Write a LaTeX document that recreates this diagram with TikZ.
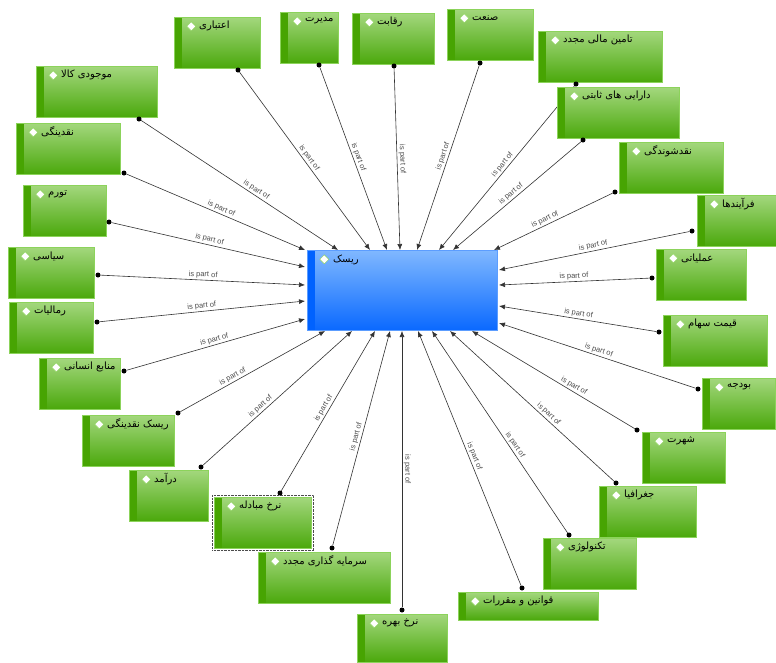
\documentclass[tikz,border=0pt]{standalone}
\usepackage{fontspec}
\setmainfont{Liberation Sans}
\newfontfamily\persianfont[Script=Arabic]{DejaVu Sans}
\TeXXeTstate=1
\usetikzlibrary{arrows.meta,backgrounds}

\newcommand{\fatext}[1]{\beginR #1\endR}

\definecolor{verdechiaro}{HTML}{A3D77D}
\definecolor{verdescuro}{HTML}{4AA80B}
\definecolor{verdestriscia}{HTML}{47A402}
\definecolor{bordoverde}{HTML}{8CD35B}
\definecolor{bluchiaro}{HTML}{80B8FF}
\definecolor{bluscuro}{HTML}{0A69FF}
\definecolor{blustriscia}{HTML}{0062FF}
\definecolor{bordoblu}{HTML}{5C9DFF}

\tikzset{
  conrombo/.style={path picture={
      \fill[#1] (path picture bounding box.north west) rectangle ([shift={(8,0)}]path picture bounding box.south west);
      \filldraw[fill=white, draw=bordoverde, line width=0.5pt] ([shift={(17,4.5)}]path picture bounding box.north west) -- ++(4.5,4.5) -- ++(-4.5,4.5) -- ++(-4.5,-4.5) -- cycle;}},
  fattore/.style={draw=bordoverde, line width=0.6pt, top color=verdechiaro, bottom color=verdescuro, minimum height=51pt, inner sep=0pt, anchor=north west, conrombo=verdestriscia},
  rischio/.style={draw=bordoblu, line width=0.6pt, top color=bluchiaro, bottom color=bluscuro, minimum width=190pt, minimum height=80pt, inner sep=0pt, anchor=north west, conrombo=blustriscia},
  nome/.style={font=\persianfont\fontsize{10}{11}\selectfont, inner sep=0pt, anchor=west},
  punto/.style={circle, fill=black, inner sep=0pt, minimum size=5pt},
  legame/.style={line width=0.6pt, draw=black!80, -{Latex[length=6pt,width=5pt]}},
  partedi/.style={font=\fontsize{7.5}{8}\selectfont, text=black!70, sloped, above, midway, inner sep=1.5pt}
}

\begin{document}
\begin{tikzpicture}[x=1pt,y=-1pt]
    \useasboundingbox (0,0) rectangle (776,662);

    % Nodo centrale
    \node[rischio] (risk) at (307,250) {};
    \node[nome] (riskT) at ([shift={(26,10)}]risk.north west) {\fatext{ریسک}};

    % Fattori in alto
    \node[fattore, minimum width=86pt] (etebari) at (174,17) {};
    \node[nome] (etebariT) at ([shift={(25,9)}]etebari.north west) {\fatext{اعتباری}};
    \node[fattore, minimum width=58pt] (modiriat) at (280,12) {};
    \node[nome] (modiriatT) at ([shift={(25,9)}]modiriat.north west) {\fatext{مدیرت}};
    \node[fattore, minimum width=82pt] (reghabat) at (352,13) {};
    \node[nome] (reghabatT) at ([shift={(25,9)}]reghabat.north west) {\fatext{رقابت}};
    \node[fattore, minimum width=86pt] (sanat) at (447,9) {};
    \node[nome] (sanatT) at ([shift={(25,9)}]sanat.north west) {\fatext{صنعت}};
    \node[fattore, minimum width=124pt] (tamin) at (538,31) {};
    \node[nome] (taminT) at ([shift={(25,9)}]tamin.north west) {\fatext{تامین مالی مجدد}};
    \node[fattore, minimum width=122pt] (daraei) at (557,87) {};
    \node[nome] (daraeiT) at ([shift={(25,9)}]daraei.north west) {\fatext{دارایی های ثابتی}};
    \node[fattore, minimum width=104pt] (naghdshav) at (619,142) {};
    \node[nome] (naghdshavT) at ([shift={(25,9)}]naghdshav.north west) {\fatext{نقدشوندگی}};

    % Fattori a destra
    \node[fattore, minimum width=79pt] (farayand) at (697,195) {};
    \node[nome] (farayandT) at ([shift={(25,9)}]farayand.north west) {\fatext{فرآیندها}};
    \node[fattore, minimum width=90pt] (amaliati) at (656,249) {};
    \node[nome] (amaliatiT) at ([shift={(25,9)}]amaliati.north west) {\fatext{عملیاتی}};
    \node[fattore, minimum width=104pt] (gheymat) at (663,315) {};
    \node[nome] (gheymatT) at ([shift={(25,9)}]gheymat.north west) {\fatext{قیمت سهام}};
    \node[fattore, minimum width=73pt] (budje) at (702,378) {};
    \node[nome] (budjeT) at ([shift={(25,9)}]budje.north west) {\fatext{بودجه}};
    \node[fattore, minimum width=83pt] (shohrat) at (642,432) {};
    \node[nome] (shohratT) at ([shift={(25,9)}]shohrat.north west) {\fatext{شهرت}};
    \node[fattore, minimum width=97pt] (joghrafia) at (599,486) {};
    \node[nome] (joghrafiaT) at ([shift={(25,9)}]joghrafia.north west) {\fatext{جغرافیا}};
    \node[fattore, minimum width=93pt] (teknoloji) at (543,538) {};
    \node[nome] (teknolojiT) at ([shift={(25,9)}]teknoloji.north west) {\fatext{تکنولوژی}};

    % Fattori in basso
    \node[fattore, minimum width=140pt, minimum height=28pt] (ghavanin) at (458,592) {};
    \node[nome] (ghavaninT) at ([shift={(25,9)}]ghavanin.north west) {\fatext{قوانین و مقررات}};
    \node[fattore, minimum width=90pt, minimum height=48pt] (bahre) at (357,614) {};
    \node[nome] (bahreT) at ([shift={(25,9)}]bahre.north west) {\fatext{نرخ بهره}};
    \node[fattore, minimum width=132pt] (sarmaye) at (258,552) {};
    \node[nome] (sarmayeT) at ([shift={(25,9)}]sarmaye.north west) {\fatext{سرمایه گذاری مجدد}};
    \node[fattore, minimum width=97pt] (mobadele) at (214,497) {};
    \node[nome] (mobadeleT) at ([shift={(25,9)}]mobadele.north west) {\fatext{نرخ مبادله}};
    \draw[densely dotted, black!70] ([shift={(-2,-2)}]mobadele.north west) rectangle ([shift={(2,2)}]mobadele.south east); % selezione
    \node[fattore, minimum width=79pt] (daramad) at (129,470) {};
    \node[nome] (daramadT) at ([shift={(25,9)}]daramad.north west) {\fatext{درآمد}};
    \node[fattore, minimum width=92pt] (risknaghd) at (82,415) {};
    \node[nome] (risknaghdT) at ([shift={(25,9)}]risknaghd.north west) {\fatext{ریسک نقدینگی}};

    % Fattori a sinistra
    \node[fattore, minimum width=81pt] (manabe) at (39,358) {};
    \node[nome] (manabeT) at ([shift={(25,9)}]manabe.north west) {\fatext{منابع انسانی}};
    \node[fattore, minimum width=84pt] (maliat) at (9,302) {};
    \node[nome] (maliatT) at ([shift={(25,9)}]maliat.north west) {\fatext{رمالیات}};
    \node[fattore, minimum width=86pt] (siasi) at (8,247) {};
    \node[nome] (siasiT) at ([shift={(25,9)}]siasi.north west) {\fatext{سیاسی}};
    \node[fattore, minimum width=83pt] (tavarom) at (23,185) {};
    \node[nome] (tavaromT) at ([shift={(25,9)}]tavarom.north west) {\fatext{تورم}};
    \node[fattore, minimum width=104pt] (naghdinegi) at (16,123) {};
    \node[nome] (naghdinegiT) at ([shift={(25,9)}]naghdinegi.north west) {\fatext{نقدینگی}};
    \node[fattore, minimum width=121pt] (mojoodi) at (36,66) {};
    \node[nome] (mojoodiT) at ([shift={(25,9)}]mojoodi.north west) {\fatext{موجودی کالا}};

    % Pallini di partenza
    \node[punto] (pEtebari) at (238,70) {};
    \node[punto] (pModiriat) at (319,65) {};
    \node[punto] (pReghabat) at (394,66) {};
    \node[punto] (pSanat) at (480,63) {};
    \node[punto] (pTamin) at (576,84) {};
    \node[punto] (pDaraei) at (583,140) {};
    \node[punto] (pNaghdshav) at (615,192) {};
    \node[punto] (pFarayand) at (692,231) {};
    \node[punto] (pAmaliati) at (652,278) {};
    \node[punto] (pGheymat) at (659,332) {};
    \node[punto] (pBudje) at (698,389) {};
    \node[punto] (pShohrat) at (637,430) {};
    \node[punto] (pJoghrafia) at (616,483) {};
    \node[punto] (pTeknoloji) at (569,535) {};
    \node[punto] (pGhavanin) at (522,588) {};
    \node[punto] (pBahre) at (402,610) {};
    \node[punto] (pSarmaye) at (332,548) {};
    \node[punto] (pMobadele) at (280,493) {};
    \node[punto] (pDaramad) at (201,467) {};
    \node[punto] (pRisknaghd) at (178,413) {};
    \node[punto] (pManabe) at (124,371) {};
    \node[punto] (pMaliat) at (97,322) {};
    \node[punto] (pSiasi) at (98,275) {};
    \node[punto] (pTavarom) at (109,222) {};
    \node[punto] (pNaghdinegi) at (124,173) {};
    \node[punto] (pMojoodi) at (139,119) {};

    % Punti di arrivo sul nodo centrale
    \coordinate (tNaghdinegi) at (305,250);
    \coordinate (tMojoodi) at (338,250);
    \coordinate (tEtebari) at (370,250);
    \coordinate (tModiriat) at (387,250);
    \coordinate (tReghabat) at (400,250);
    \coordinate (tSanat) at (417,250);
    \coordinate (tTamin) at (439,250);
    \coordinate (tDaraei) at (453,250);
    \coordinate (tNaghdshav) at (494,250);
    \coordinate (tFarayand) at (499,270);
    \coordinate (tAmaliati) at (499,285);
    \coordinate (tGheymat) at (499,306);
    \coordinate (tBudje) at (499,323);
    \coordinate (tShohrat) at (472,331);
    \coordinate (tJoghrafia) at (450,331);
    \coordinate (tTeknoloji) at (432,331);
    \coordinate (tGhavanin) at (418,331);
    \coordinate (tBahre) at (402,331);
    \coordinate (tSarmaye) at (390,331);
    \coordinate (tMobadele) at (375,331);
    \coordinate (tDaramad) at (352,331);
    \coordinate (tRisknaghd) at (325,331);
    \coordinate (tManabe) at (305,319);
    \coordinate (tMaliat) at (305,301);
    \coordinate (tSiasi) at (305,285);
    \coordinate (tTavarom) at (305,267);

    % Collegamenti "is part of" (sotto le scatole)
    \begin{scope}[on background layer]
        \fill[white] (0,0) rectangle (776,662);
        \draw[legame] (pEtebari) -- node[partedi] {is part of} (tEtebari);
        \draw[legame] (pModiriat) -- node[partedi] {is part of} (tModiriat);
        \draw[legame] (pReghabat) -- node[partedi] {is part of} (tReghabat);
        \draw[legame] (pSanat) -- node[partedi] {is part of} (tSanat);
        \draw[legame] (pTamin) -- node[partedi] {is part of} (tTamin);
        \draw[legame] (pDaraei) -- node[partedi, pos=0.52] {is part of} (tDaraei);
        \draw[legame] (pNaghdshav) -- node[partedi, pos=0.55] {is part of} (tNaghdshav);
        \draw[legame] (pFarayand) -- node[partedi] {is part of} (tFarayand);
        \draw[legame] (pAmaliati) -- node[partedi] {is part of} (tAmaliati);
        \draw[legame] (pGheymat) -- node[partedi] {is part of} (tGheymat);
        \draw[legame] (pBudje) -- node[partedi] {is part of} (tBudje);
        \draw[legame] (pShohrat) -- node[partedi, pos=0.39] {is part of} (tShohrat);
        \draw[legame] (pJoghrafia) -- node[partedi, pos=0.42] {is part of} (tJoghrafia);
        \draw[legame] (pTeknoloji) -- node[partedi, pos=0.42] {is part of} (tTeknoloji);
        \draw[legame] (pGhavanin) -- node[partedi] {is part of} (tGhavanin);
        \draw[legame] (pBahre) -- node[partedi, rotate=180] {is part of} (tBahre);
        \draw[legame] (pSarmaye) -- node[partedi] {is part of} (tSarmaye);
        \draw[legame] (pMobadele) -- node[partedi] {is part of} (tMobadele);
        \draw[legame] (pDaramad) -- node[partedi, pos=0.41] {is part of} (tDaramad);
        \draw[legame] (pRisknaghd) -- node[partedi, pos=0.38] {is part of} (tRisknaghd);
        \draw[legame] (pManabe) -- node[partedi] {is part of} (tManabe);
        \draw[legame] (pMaliat) -- node[partedi] {is part of} (tMaliat);
        \draw[legame] (pSiasi) -- node[partedi] {is part of} (tSiasi);
        \draw[legame] (pTavarom) -- node[partedi] {is part of} (tTavarom);
        \draw[legame] (pNaghdinegi) -- node[partedi, pos=0.52] {is part of} (tNaghdinegi);
        \draw[legame] (pMojoodi) -- node[partedi, pos=0.57] {is part of} (tMojoodi);
    \end{scope}
\end{tikzpicture}
\end{document}
